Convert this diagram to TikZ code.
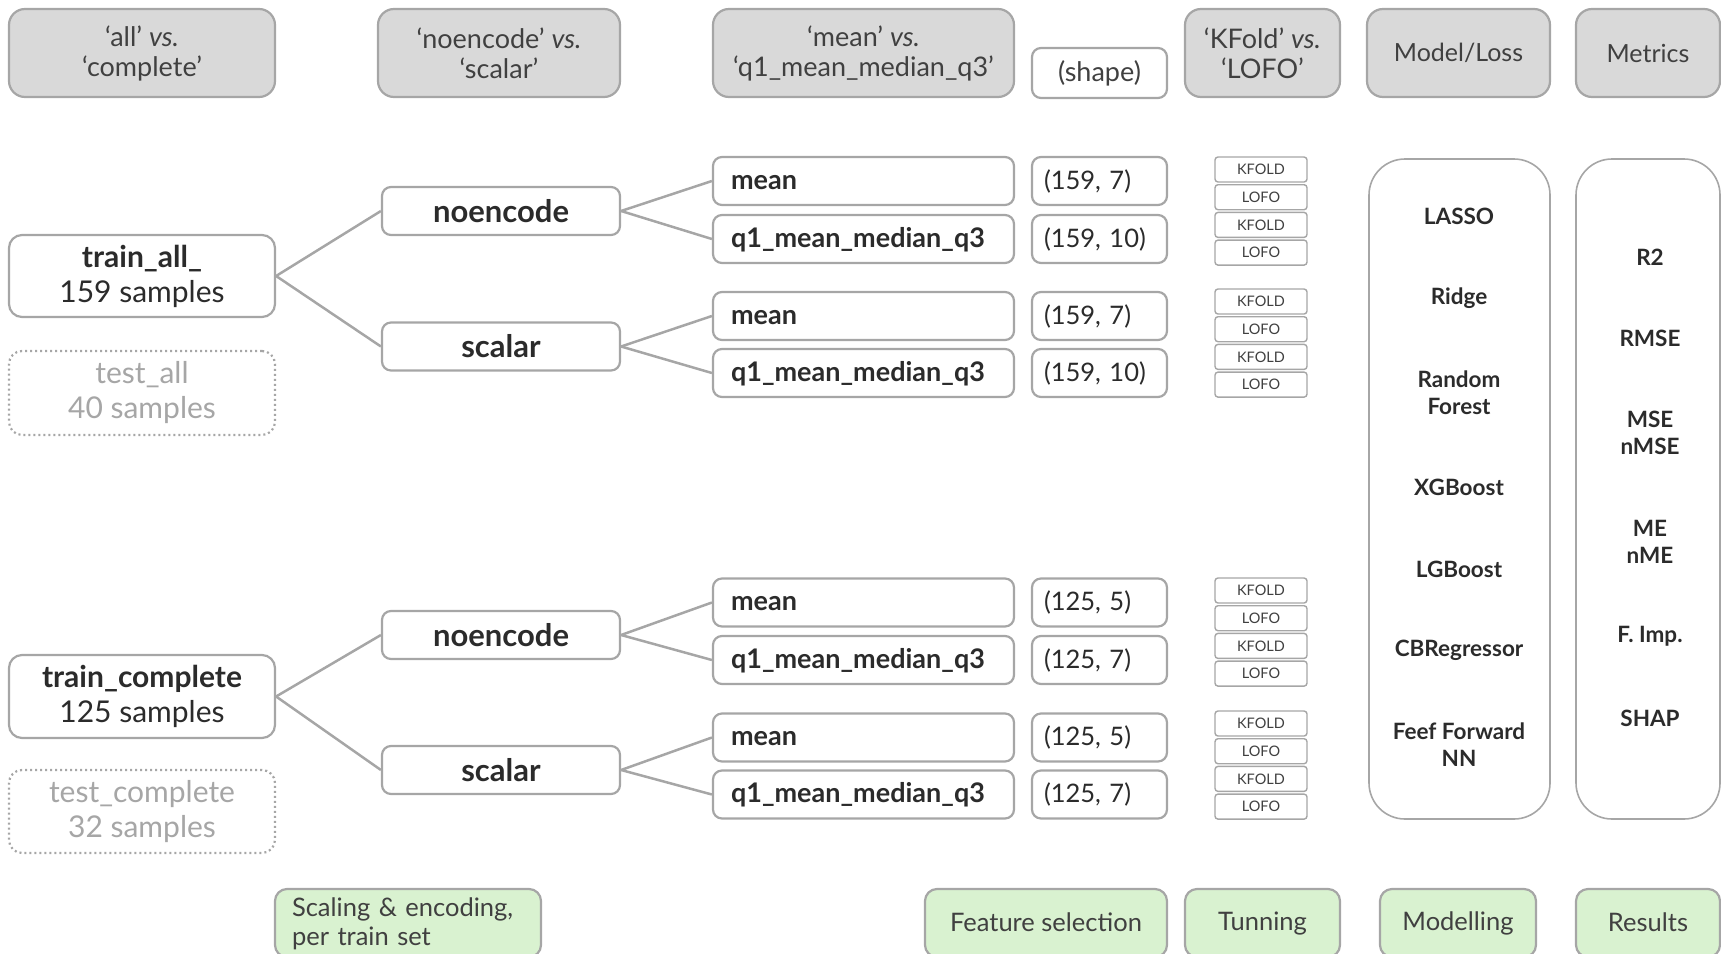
\documentclass[tikz,border=0pt]{standalone}
\usepackage{fontspec}
\setmainfont{Lato}
\definecolor{bgray}{HTML}{A6A6A6}
\definecolor{hfill}{HTML}{D9D9D9}
\definecolor{gfill}{HTML}{D9F2D0}
\definecolor{txt}{HTML}{2B2B2B}
\definecolor{htxt}{HTML}{404040}
\definecolor{tgray}{HTML}{A6A6A6}
\tikzset{
  box/.style={draw=bgray, line width=2.2pt, rounded corners=9pt, fill=white, inner sep=0pt, text=txt},
  hdr/.style={box, fill=hfill, rounded corners=16pt, text=htxt, font=\fontsize{27}{30}\selectfont, align=center},
  leftbox/.style={box, rounded corners=13pt, minimum width=266pt, font=\fontsize{30}{35}\selectfont, align=center},
  testbox/.style={leftbox, dash pattern=on 2pt off 3pt, text=tgray},
  encbox/.style={box, minimum width=238pt, minimum height=48pt, font=\bfseries\fontsize{31}{34}\selectfont},
  featbox/.style={box, minimum height=48pt, text width=265pt, inner xsep=18pt, align=left, execute at begin node={\vphantom{(}}, font=\bfseries\fontsize{27}{30}\selectfont},
  shapebox/.style={box, minimum height=48pt, minimum width=135pt, text width=111pt, inner xsep=12pt, align=left, font=\fontsize{25.5}{28}\selectfont},
  cvbox/.style={draw=bgray, line width=1.4pt, rounded corners=3pt, fill=white, inner sep=0pt, minimum width=92pt, minimum height=25pt, text=htxt, font=\fontsize{14.5}{15}\selectfont},
  bigbox/.style={draw=bgray, line width=1.6pt, rounded corners=36pt, inner sep=0pt},
  item/.style={text=txt, align=center, font=\bfseries\fontsize{22.5}{27}\selectfont},
  greenbox/.style={box, fill=gfill, rounded corners=12pt, text=htxt, minimum height=68pt, execute at begin node={\vphantom{(}}, font=\fontsize{25.5}{29}\selectfont},
  conn/.style={draw=bgray, line width=2.5pt}
}
\begin{document}
\begin{tikzpicture}[x=1pt,y=-1pt]
\useasboundingbox (0,0) rectangle (1721,953);
% headers
\node[hdr, minimum width=266pt, minimum height=88pt] (hA) at (142,53) {‘all’ \textit{vs.}\\‘complete’};
\node[hdr, minimum width=242pt, minimum height=88pt] (hB) at (499,53) {‘noencode’ \textit{vs.}\\‘scalar’};
\node[hdr, minimum width=301pt, minimum height=88pt] (hC) at (863.5,53) {‘mean’ \textit{vs.}\\‘q1\_mean\_median\_q3’};
\node[box, minimum width=135pt, minimum height=50pt, text=htxt, font=\fontsize{27}{30}\selectfont] (hS) at (1099.5,73) {(shape)};
\node[hdr, minimum width=155pt, minimum height=88pt] (hD) at (1262.5,53) {‘KFold’ \textit{vs.}\\‘LOFO’};
\node[hdr, minimum width=183pt, minimum height=88pt, font=\fontsize{25}{30}\selectfont] (hE) at (1458.5,53) {Model/Loss};
\node[hdr, minimum width=144pt, minimum height=88pt, font=\fontsize{25}{30}\selectfont] (hF) at (1648,53) {Metrics};
% left column
\node[leftbox, minimum height=82pt] (ta) at (142,276) {\textbf{train\_all\_}\\159 samples};
\node[testbox, minimum height=84pt] (tsa) at (142,393) {test\_all\\40 samples};
\node[leftbox, minimum height=83pt] (tc) at (142,696.5) {\textbf{train\_complete}\\125 samples};
\node[testbox, minimum height=83pt] (tsc) at (142,811.5) {test\_complete\\32 samples};
% encoding column
\node[encbox] (ne1) at (501,211) {noencode};
\node[encbox] (sc1) at (501,346.5) {scalar};
\node[encbox] (ne2) at (501,635) {noencode};
\node[encbox] (sc2) at (501,770) {scalar};
% feature column
\node[featbox] (f1) at (863.5,181) {mean};
\node[featbox] (f2) at (863.5,239) {q1\_mean\_median\_q3};
\node[featbox] (f3) at (863.5,316) {mean};
\node[featbox] (f4) at (863.5,373) {q1\_mean\_median\_q3};
\node[featbox] (f5) at (863.5,602.5) {mean};
\node[featbox] (f6) at (863.5,660) {q1\_mean\_median\_q3};
\node[featbox] (f7) at (863.5,737.5) {mean};
\node[featbox] (f8) at (863.5,794.5) {q1\_mean\_median\_q3};
% shape column
\node[shapebox] (s1) at (1099.5,181) {(159, 7)};
\node[shapebox] (s2) at (1099.5,239) {(159, 10)};
\node[shapebox] (s3) at (1099.5,316) {(159, 7)};
\node[shapebox] (s4) at (1099.5,373) {(159, 10)};
\node[shapebox] (s5) at (1099.5,602.5) {(125, 5)};
\node[shapebox] (s6) at (1099.5,660) {(125, 7)};
\node[shapebox] (s7) at (1099.5,737.5) {(125, 5)};
\node[shapebox] (s8) at (1099.5,794.5) {(125, 7)};
% CV boxes
\node[cvbox] (k1) at (1261,169.5) {KFOLD};
\node[cvbox] (l1) at (1261,197.2) {LOFO};
\node[cvbox] (k2) at (1261,224.9) {KFOLD};
\node[cvbox] (l2) at (1261,252.6) {LOFO};
\node[cvbox] (k3) at (1261,301.5) {KFOLD};
\node[cvbox] (l3) at (1261,329.2) {LOFO};
\node[cvbox] (k4) at (1261,356.9) {KFOLD};
\node[cvbox] (l4) at (1261,384.6) {LOFO};
\node[cvbox] (k5) at (1261,590.5) {KFOLD};
\node[cvbox] (l5) at (1261,618.2) {LOFO};
\node[cvbox] (k6) at (1261,645.9) {KFOLD};
\node[cvbox] (l6) at (1261,673.6) {LOFO};
\node[cvbox] (k7) at (1261,723.5) {KFOLD};
\node[cvbox] (l7) at (1261,751.2) {LOFO};
\node[cvbox] (k8) at (1261,778.9) {KFOLD};
\node[cvbox] (l8) at (1261,806.6) {LOFO};
% model box
\node[bigbox, minimum width=181pt, minimum height=660pt] (model) at (1459.5,489) {};
\node[item] (m1) at (1459,216) {LASSO};
\node[item] (m2) at (1459,298) {Ridge};
\node[item] (m3) at (1459,393) {Random\\Forest};
\node[item] (m4) at (1459,487) {XGBoost};
\node[item] (m5) at (1459,569) {LGBoost};
\node[item] (m6) at (1459,650) {CBRegressor};
\node[item] (m7) at (1459,744.5) {Feef Forward\\NN};
% metrics box
\node[bigbox, minimum width=144pt, minimum height=660pt] (metrics) at (1648,489) {};
\node[item] (r1) at (1650,257) {R2};
\node[item] (r2) at (1650,338) {RMSE};
\node[item] (r3) at (1650,433) {MSE\\nMSE};
\node[item] (r4) at (1650,541.5) {ME\\nME};
\node[item] (r5) at (1650,636) {F. Imp.};
\node[item] (r6) at (1650,718) {SHAP};
% green boxes
\node[greenbox, minimum width=266pt, text width=232pt, inner xsep=17pt, align=left] (g1) at (408,923) {Scaling \& encoding,\\per train set};
\node[greenbox, minimum width=242pt] (g2) at (1046,923) {Feature selection};
\node[greenbox, minimum width=155pt] (g3) at (1262.5,923) {Tunning};
\node[greenbox, minimum width=156pt] (g4) at (1458,923) {Modelling};
\node[greenbox, minimum width=144pt] (g5) at (1648,923) {Results};
% connectors
\draw[conn] (ta.east) -- (ne1.west);
\draw[conn] (ta.east) -- (sc1.west);
\draw[conn] (tc.east) -- (ne2.west);
\draw[conn] (tc.east) -- (sc2.west);
\draw[conn] (ne1.east) -- (f1.west);
\draw[conn] (ne1.east) -- (f2.west);
\draw[conn] (sc1.east) -- (f3.west);
\draw[conn] (sc1.east) -- (f4.west);
\draw[conn] (ne2.east) -- (f5.west);
\draw[conn] (ne2.east) -- (f6.west);
\draw[conn] (sc2.east) -- (f7.west);
\draw[conn] (sc2.east) -- (f8.west);
\end{tikzpicture}
\end{document}
